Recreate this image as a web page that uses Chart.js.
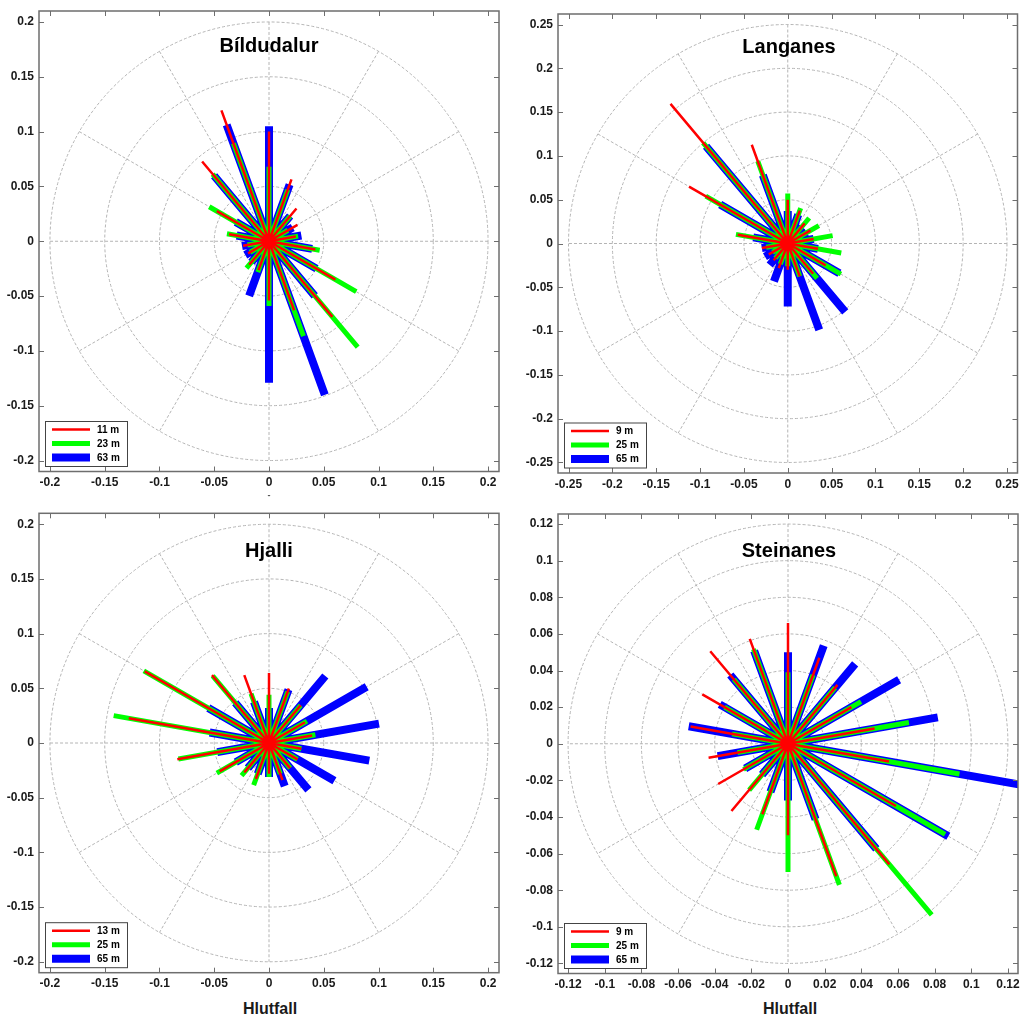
<!DOCTYPE html>
<html><head><meta charset="utf-8">
<script src="https://cdn.jsdelivr.net/npm/chart.js@4.4.1/dist/chart.umd.min.js"></script>
<style>
html,body{margin:0;padding:0;background:#fff;}
#wrap{position:relative;width:1022px;height:1018px;overflow:hidden;background:#fff;}
canvas{position:absolute;}
.ttl{position:absolute;font:bold 20px "Liberation Sans",Arial,sans-serif;color:#000;transform:translate(-50%,-50%);white-space:nowrap;}
.xl{position:absolute;font:bold 16px "Liberation Sans",Arial,sans-serif;color:#1a1a1a;transform:translate(-50%,-50%);white-space:nowrap;}
.dash{position:absolute;font:bold 9px "Liberation Sans",Arial,sans-serif;color:#555;transform:translate(-50%,-50%);}
</style></head><body>
<div id="wrap">
<canvas id="c1" width="511" height="500" style="left:0;top:0"></canvas>
<canvas id="c2" width="511" height="500" style="left:511px;top:0"></canvas>
<canvas id="c3" width="511" height="495" style="left:0;top:500px"></canvas>
<canvas id="c4" width="511" height="495" style="left:511px;top:500px"></canvas>
<div class="ttl" style="left:269px;top:45px">Bíldudalur</div>
<div class="ttl" style="left:789px;top:46px">Langanes</div>
<div class="ttl" style="left:269px;top:550px">Hjalli</div>
<div class="ttl" style="left:789px;top:550px">Steinanes</div>
<div class="dash" style="left:269px;top:495px">-</div>
<div class="xl" style="left:270px;top:1009px">Hlutfall</div>
<div class="xl" style="left:790px;top:1009px">Hlutfall</div>
</div>
<script>
// ---- data ----
const directions = [0,20,40,60,80,100,120,140,160,180,200,220,240,260,280,300,320,340];

const bildHeights = ['11 m','23 m','63 m'];
const bildRed   = [0.100,0.060,0.039,0.030,0.025,0.043,0.070,0.090,0.067,0.054,0.028,0.028,0.022,0.024,0.037,0.055,0.095,0.127];
const bildGreen = [0.068,0.050,0.030,0.020,0.027,0.047,0.092,0.126,0.092,0.059,0.030,0.032,0.020,0.020,0.039,0.063,0.080,0.095];
const bildBlue  = [0.105,0.055,0.030,0.025,0.030,0.040,0.050,0.065,0.149,0.129,0.053,0.025,0.025,0.025,0.030,0.035,0.078,0.113];

const langHeights = ['9 m','25 m','65 m'];
const langRed   = [0.050,0.040,0.030,0.030,0.030,0.035,0.050,0.045,0.040,0.030,0.030,0.025,0.025,0.030,0.058,0.130,0.208,0.120];
const langGreen = [0.057,0.043,0.038,0.041,0.052,0.062,0.070,0.052,0.040,0.026,0.025,0.022,0.020,0.025,0.060,0.108,0.150,0.100];
const langBlue  = [0.037,0.035,0.025,0.025,0.030,0.035,0.068,0.102,0.105,0.072,0.046,0.032,0.030,0.030,0.040,0.089,0.145,0.083];

const hjalHeights = ['13 m','25 m','65 m'];
const hjalRed   = [0.064,0.053,0.045,0.038,0.040,0.030,0.030,0.030,0.036,0.028,0.035,0.035,0.052,0.085,0.130,0.131,0.081,0.066];
const hjalGreen = [0.044,0.050,0.045,0.040,0.043,0.030,0.030,0.030,0.030,0.031,0.041,0.039,0.055,0.084,0.144,0.132,0.080,0.048];
const hjalBlue  = [0.032,0.052,0.080,0.103,0.102,0.093,0.069,0.056,0.042,0.031,0.030,0.030,0.035,0.048,0.055,0.064,0.048,0.040];

const steiHeights = ['9 m','25 m','65 m'];
const steiRed   = [0.066,0.050,0.042,0.040,0.048,0.056,0.068,0.086,0.077,0.050,0.041,0.048,0.044,0.044,0.054,0.054,0.066,0.061];
const steiGreen = [0.039,0.040,0.040,0.046,0.067,0.095,0.099,0.122,0.082,0.070,0.050,0.033,0.028,0.028,0.031,0.040,0.046,0.055];
const steiBlue  = [0.050,0.057,0.057,0.070,0.083,0.128,0.101,0.075,0.044,0.031,0.028,0.022,0.027,0.039,0.055,0.043,0.049,0.054];

const ticks20Labels = ['-0.2','-0.15','-0.1','-0.05','0','0.05','0.1','0.15','0.2'];
const ticks25Labels = ['-0.25','-0.2','-0.15','-0.1','-0.05','0','0.05','0.1','0.15','0.2','0.25'];
const ticks12Labels = ['-0.12','-0.1','-0.08','-0.06','-0.04','-0.02','0','0.02','0.04','0.06','0.08','0.1','0.12'];

const rings20 = [0.05,0.1,0.15,0.2];
const rings25 = [0.05,0.1,0.15,0.2,0.25];
const rings12 = [0.02,0.04,0.06,0.08,0.1,0.12];

// ---- helpers ----
function spokes(vals){
  const pts=[];
  vals.forEach((r,i)=>{
    const a=directions[i]*Math.PI/180;
    pts.push({x:0,y:0},{x:r*Math.sin(a),y:r*Math.cos(a)},{x:null,y:null});
  });
  return pts;
}

const FONT = '"Liberation Sans", Arial, sans-serif';
const BOX = '#6e6e6e';

const polarGrid = {
  id:'polarGrid',
  beforeDatasetsDraw(chart, args, opts){
    const {ctx, chartArea:a, scales:{x,y}} = chart;
    const cx=x.getPixelForValue(0), cy=y.getPixelForValue(0);
    const radii=opts.radii, rmax=radii[radii.length-1];
    ctx.save();
    ctx.beginPath(); ctx.rect(a.left,a.top,a.width,a.height); ctx.clip();
    ctx.strokeStyle='#b4b4b4'; ctx.lineWidth=1; ctx.setLineDash([3,2]);
    radii.forEach(r=>{
      const rx=x.getPixelForValue(r)-cx, ry=cy-y.getPixelForValue(r);
      ctx.beginPath(); ctx.ellipse(cx,cy,rx,ry,0,0,Math.PI*2); ctx.stroke();
    });
    for(let d=0; d<180; d+=30){
      const t=d*Math.PI/180;
      const x1=x.getPixelForValue(rmax*Math.cos(t)), y1=y.getPixelForValue(rmax*Math.sin(t));
      const x2=x.getPixelForValue(-rmax*Math.cos(t)), y2=y.getPixelForValue(-rmax*Math.sin(t));
      ctx.beginPath(); ctx.moveTo(x1,y1); ctx.lineTo(x2,y2); ctx.stroke();
    }
    ctx.restore();
  }
};

const boxTicks = {
  id:'boxTicks',
  afterDatasetsDraw(chart){
    const {ctx, chartArea:a, scales:{x,y}} = chart;
    ctx.save();
    ctx.strokeStyle=BOX; ctx.lineWidth=1;
    const L=5;
    ctx.beginPath();
    x.ticks.forEach(t=>{
      const px=Math.round(x.getPixelForValue(t.value))+0.5;
      ctx.moveTo(px,a.bottom); ctx.lineTo(px,a.bottom-L);
      ctx.moveTo(px,a.top); ctx.lineTo(px,a.top+L);
    });
    y.ticks.forEach(t=>{
      const py=Math.round(y.getPixelForValue(t.value))+0.5;
      ctx.moveTo(a.left,py); ctx.lineTo(a.left+L,py);
      ctx.moveTo(a.right,py); ctx.lineTo(a.right-L,py);
    });
    ctx.stroke();
    ctx.lineWidth=1.5;
    ctx.strokeRect(a.left,a.top,a.width,a.height);
    ctx.restore();
  },
  afterDraw(chart){
    const {ctx, chartArea:a} = chart;
    const ds=chart.data.datasets;
    const bx=a.left+6, bh=45, by=a.bottom-5.5-bh, bw=82;
    ctx.save();
    ctx.fillStyle='#fff'; ctx.fillRect(bx,by,bw,bh);
    ctx.strokeStyle='#444'; ctx.lineWidth=1; ctx.setLineDash([]);
    ctx.strokeRect(bx+0.5,by+0.5,bw,bh);
    ds.forEach((d,i)=>{
      const yy=by+8.5+i*14;
      ctx.strokeStyle=d.borderColor; ctx.lineWidth=d.borderWidth; ctx.lineCap='butt';
      ctx.beginPath(); ctx.moveTo(bx+7,yy); ctx.lineTo(bx+45,yy); ctx.stroke();
      ctx.fillStyle='#000'; ctx.font='bold 10px '+FONT; ctx.textBaseline='middle'; ctx.textAlign='left';
      ctx.fillText(d.label,bx+52,yy+0.5);
    });
    ctx.restore();
  }
};

function makeChart(id, heights, red, green, blue, lim, tickLabels, rings, box){
  const canvas=document.getElementById(id);
  const W=canvas.width, H=canvas.height;
  const tickVals=tickLabels.map(Number);
  const axisCommon = {
    type:'linear', min:-lim, max:lim,
    grid:{display:false, drawTicks:false},
    border:{display:false},
    afterBuildTicks:s=>{ s.ticks=tickVals.map(v=>({value:v})); },
    ticks:{autoSkip:false, maxRotation:0, minRotation:0, color:'#1a1a1a',
      font:{family:FONT, size:12, weight:'bold'},
      callback:(v,i)=>tickLabels[i]}
  };
  return new Chart(canvas,{
    type:'scatter',
    data:{datasets:[
      {label:heights[0], data:spokes(red),   borderColor:'#ff0000', borderWidth:2.5, showLine:true, pointRadius:0, spanGaps:false, clip:0, borderCapStyle:'butt'},
      {label:heights[1], data:spokes(green), borderColor:'#00ff00', borderWidth:5,   showLine:true, pointRadius:0, spanGaps:false, clip:0, borderCapStyle:'butt'},
      {label:heights[2], data:spokes(blue),  borderColor:'#0000ff', borderWidth:8,   showLine:true, pointRadius:0, spanGaps:false, clip:0, borderCapStyle:'butt'}
    ]},
    options:{
      responsive:false, animation:false, devicePixelRatio:1,
      layout:{padding:{top:box.T, right:W-box.R, left:0, bottom:0}},
      plugins:{legend:{display:false}, tooltip:{enabled:false}, polarGrid:{radii:rings}},
      scales:{
        x:Object.assign({}, axisCommon, {position:'bottom',
          ticks:Object.assign({}, axisCommon.ticks, {padding:4}),
          afterFit:s=>{ s.height=H-box.B; s.paddingLeft=0; s.paddingRight=0; }}),
        y:Object.assign({}, axisCommon, {position:'left',
          ticks:Object.assign({}, axisCommon.ticks, {padding:5}),
          afterFit:s=>{ s.width=box.L; s.paddingTop=0; s.paddingBottom=0; }})
      }
    },
    plugins:[polarGrid, boxTicks]
  });
}

// boxes are in canvas-local coordinates
makeChart('c1', bildHeights, bildRed, bildGreen, bildBlue, 0.21,  ticks20Labels, rings20, {L:39, T:11,   R:499,    B:471.5});
makeChart('c2', langHeights, langRed, langGreen, langBlue, 0.262, ticks25Labels, rings25, {L:47, T:14,   R:506.5,  B:473});
makeChart('c3', hjalHeights, hjalRed, hjalGreen, hjalBlue, 0.21,  ticks20Labels, rings20, {L:39, T:13.3, R:499,    B:472.7});
makeChart('c4', steiHeights, steiRed, steiGreen, steiBlue, 0.1255,ticks12Labels, rings12, {L:47, T:14,   R:507,    B:473.5});
</script>
</body></html>
